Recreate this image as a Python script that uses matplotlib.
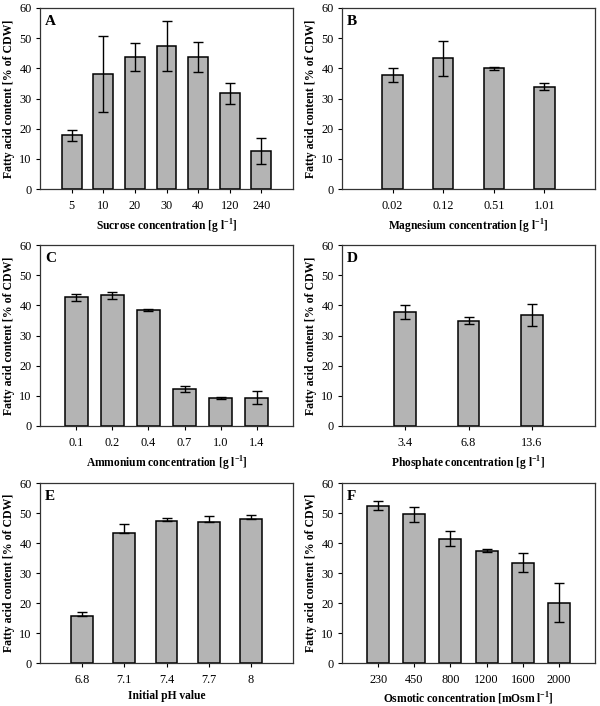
import matplotlib
matplotlib.use("Agg")
import matplotlib.pyplot as plt

plt.rcParams['font.family'] = 'Liberation Serif'
plt.rcParams['mathtext.fontset'] = 'custom'
plt.rcParams['mathtext.rm'] = 'Liberation Serif'
plt.rcParams['mathtext.bf'] = 'Liberation Serif:bold'

# panel data
sucrose_labels = ['5', '10', '20', '30', '40', '120', '240']
sucrose_values = [17.8, 38.2, 43.7, 47.4, 43.7, 31.7, 12.7]
sucrose_errors = [1.9, 12.6, 4.6, 8.2, 4.9, 3.6, 4.3]

magnesium_labels = ['0.02', '0.12', '0.51', '1.01']
magnesium_values = [37.7, 43.3, 40.0, 33.9]
magnesium_errors = [2.3, 5.8, 0.5, 1.2]

ammonium_labels = ['0.1', '0.2', '0.4', '0.7', '1.0', '1.4']
ammonium_values = [42.6, 43.3, 38.4, 12.2, 9.4, 9.4]
ammonium_errors = [1.1, 1.25, 0.4, 0.95, 0.3, 2.2]

phosphate_labels = ['3.4', '6.8', '13.6']
phosphate_values = [37.8, 34.9, 36.8]
phosphate_errors = [2.3, 1.1, 3.5]

ph_labels = ['6.8', '7.1', '7.4', '7.7', '8']
ph_values = [15.6, 43.3, 47.2, 47.0, 48.1]
ph_errors = [1.3, 2.9, 1.2, 2.0, 1.1]

osmotic_labels = ['230', '450', '800', '1200', '1600', '2000']
osmotic_values = [52.5, 49.6, 41.5, 37.4, 33.4, 20.1]
osmotic_errors = [1.5, 2.5, 2.4, 0.55, 3.2, 6.5]

inv = r'$^{\mathbf{-1}}$'
# (letter, tick labels, values, errors, x label, bar width, error mode)
panels = [
    ('A', sucrose_labels, sucrose_values, sucrose_errors,
     'Sucrose concentration [g l' + inv + ']', 0.63, 'both'),
    ('B', magnesium_labels, magnesium_values, magnesium_errors,
     'Magnesium concentration [g l' + inv + ']', 0.40, 'both'),
    ('C', ammonium_labels, ammonium_values, ammonium_errors,
     'Ammonium concentration [g l' + inv + ']', 0.63, 'both'),
    ('D', phosphate_labels, phosphate_values, phosphate_errors,
     'Phosphate concentration [g l' + inv + ']', 0.34, 'both'),
    ('E', ph_labels, ph_values, ph_errors,
     'Initial pH value', 0.52, 'up'),
    ('F', osmotic_labels, osmotic_values, osmotic_errors,
     'Osmotic concentration [mOsm l' + inv + ']', 0.61, 'both'),
]

W, H = 600, 706
fig = plt.figure(figsize=(W / 100, H / 100), dpi=100)

lefts = [40, 342]
rows = [(8, 189), (245, 426), (483, 663)]

for i, (letter, labels, values, errors, xlabel, width, mode) in enumerate(panels):
    left = lefts[i % 2]
    top, bottom = rows[i // 2]
    ax = fig.add_axes([left / W, 1 - bottom / H, 253 / W, (bottom - top) / H])
    x = list(range(1, len(values) + 1))
    ax.bar(x, values, width=width, color='#b4b4b4', edgecolor='black', linewidth=1.1, zorder=2)
    if mode == 'up':
        yerr = [[0] * len(errors), errors]
    else:
        yerr = errors
    ax.errorbar(x, values, yerr=yerr, fmt='none', ecolor='black', elinewidth=1.0,
                capsize=3.5, capthick=1.0, zorder=3)
    ax.set_xlim(0, len(values) + 1)
    ax.set_ylim(0, 60)
    ax.set_yticks(range(0, 61, 10))
    ax.set_xticks(x)
    ax.set_xticklabels(labels)
    ax.tick_params(direction='out', length=3, width=0.8, labelsize=8.8, pad=3)
    ax.tick_params(axis='x', pad=5)
    for sp in ax.spines.values():
        sp.set_linewidth(0.9)
        sp.set_color('#333333')
    pad = 3 if i >= 4 else 4
    ax.set_xlabel(xlabel, fontsize=8.3, fontweight='bold', labelpad=pad)
    ax.set_ylabel('Fatty acid content [% of CDW]', fontsize=8.5, fontweight='bold', labelpad=3)
    ax.text(0.02, 0.96, letter, transform=ax.transAxes, fontsize=11, fontweight='bold',
            va='top', ha='left')

fig.savefig('out.png', dpi=100)
